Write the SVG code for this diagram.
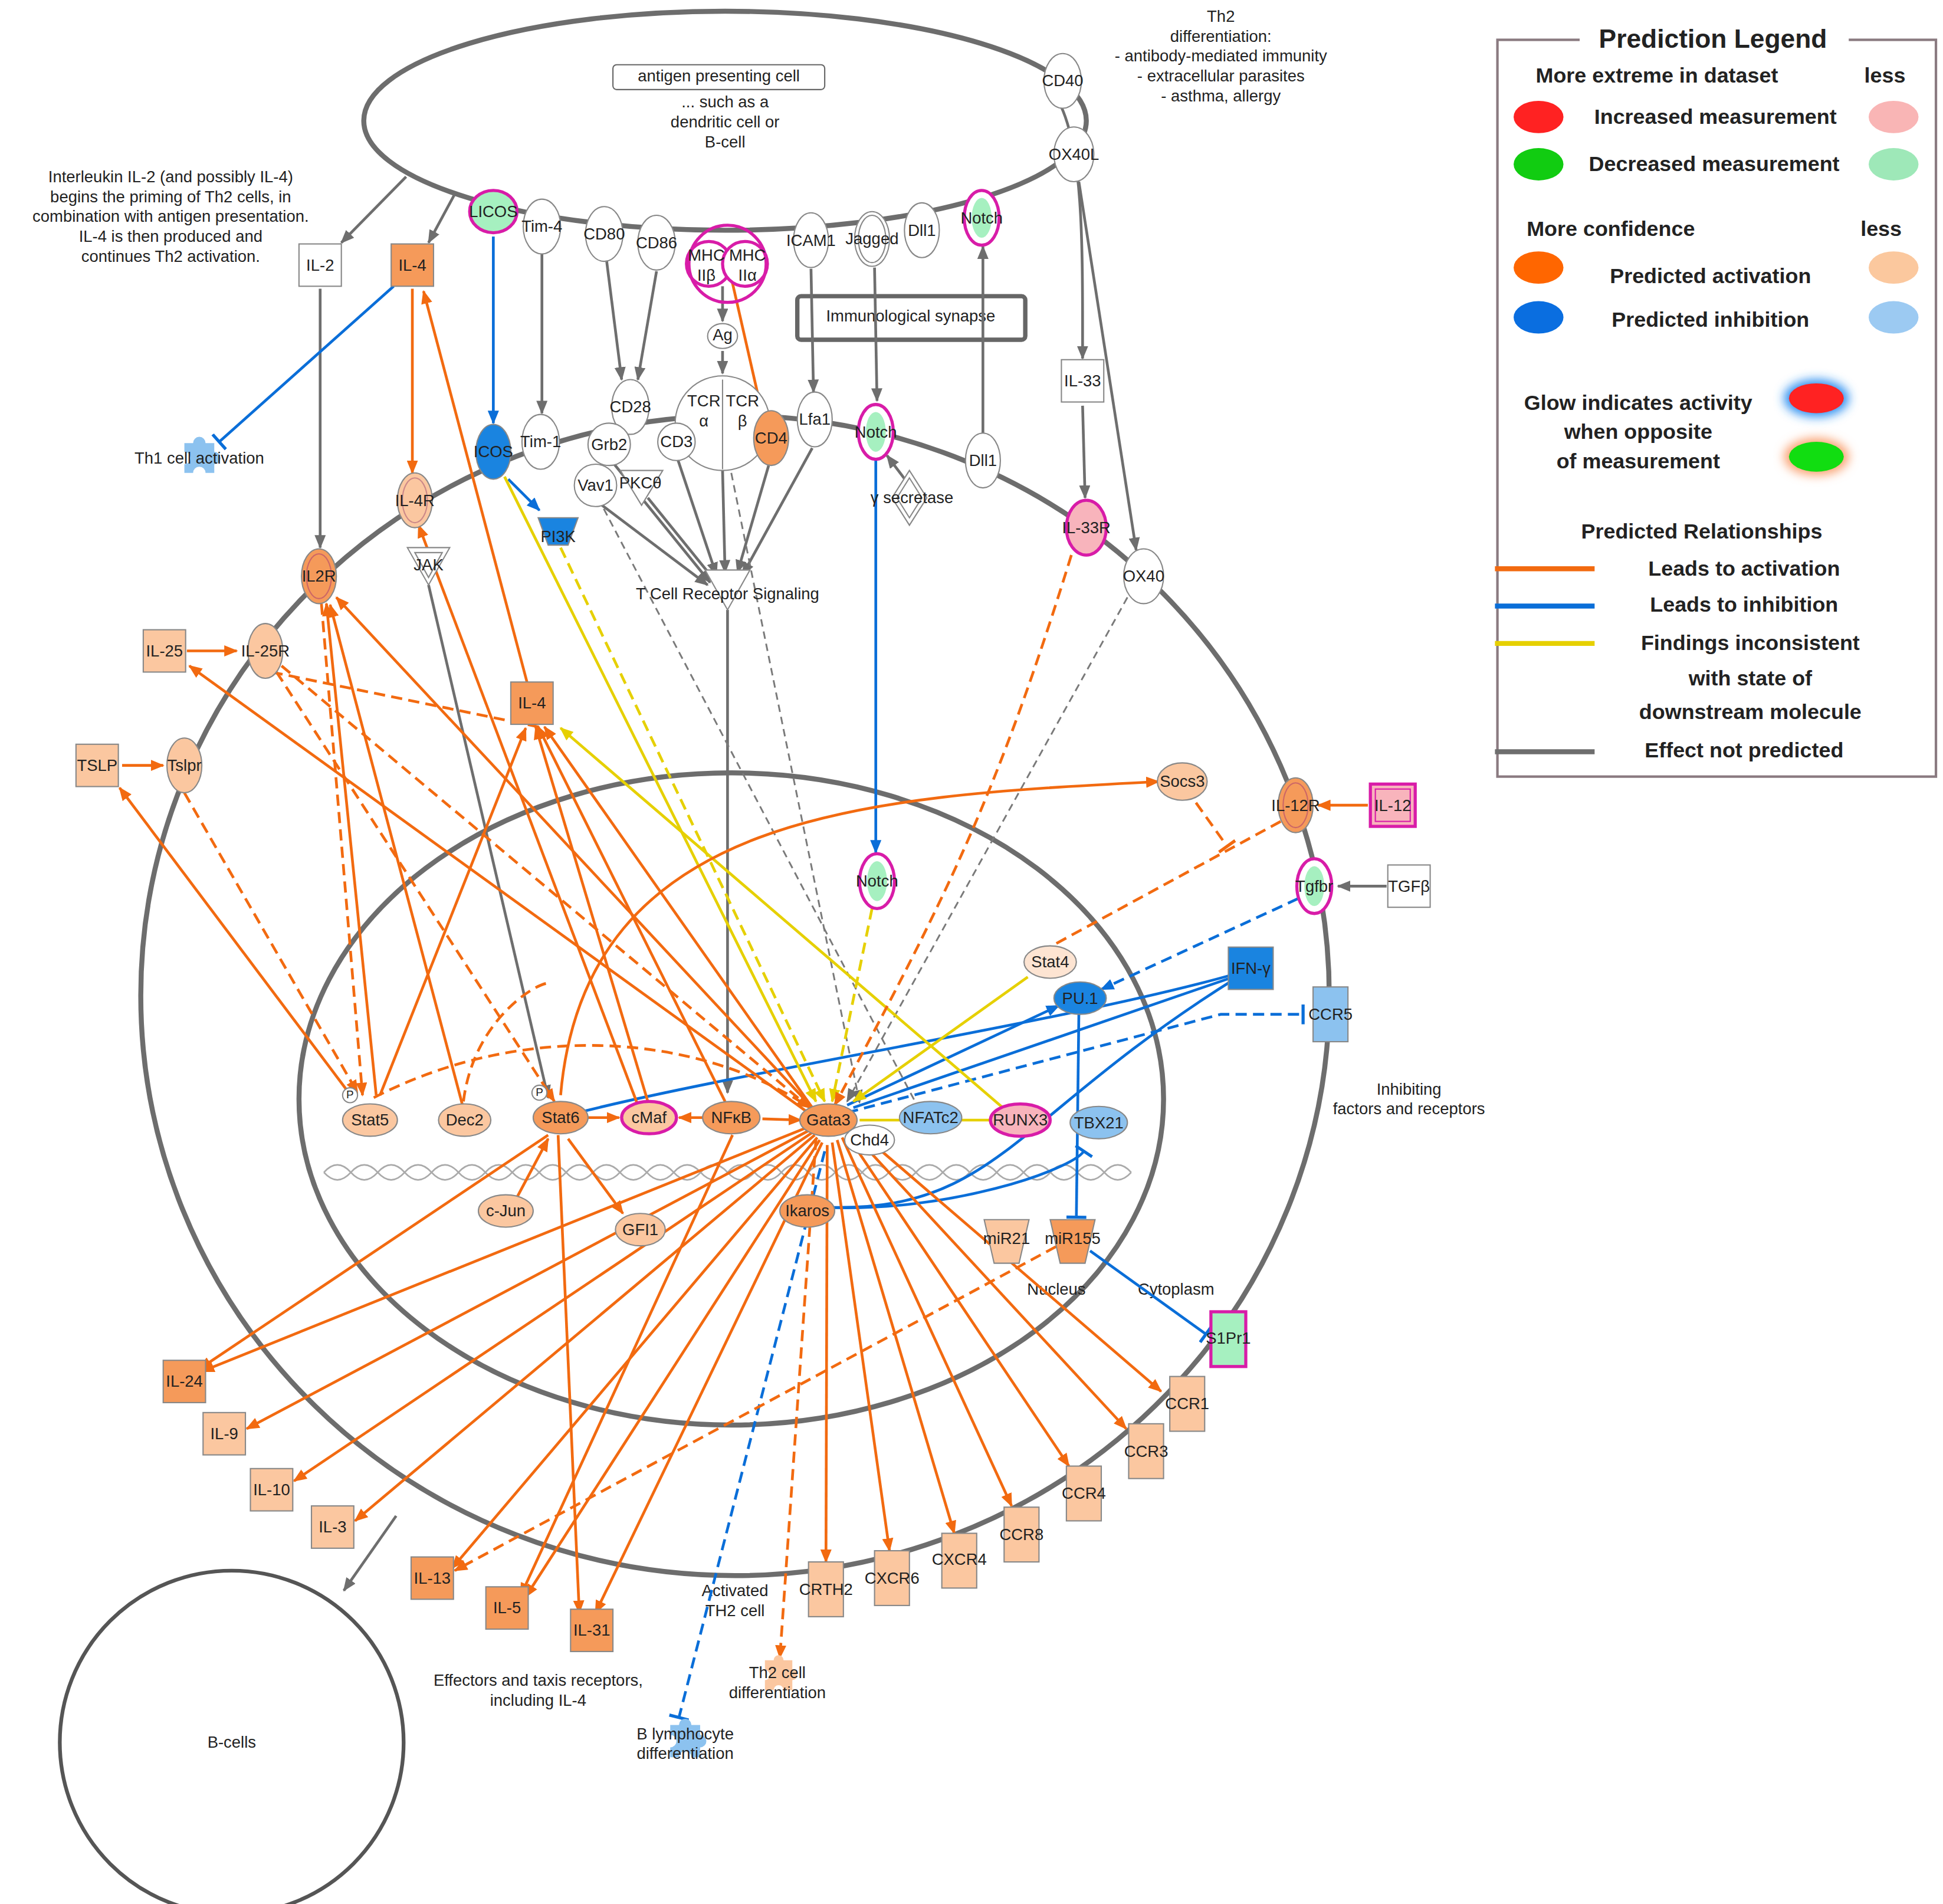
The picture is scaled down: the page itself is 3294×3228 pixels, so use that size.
<svg xmlns="http://www.w3.org/2000/svg" width="3294" height="3228" viewBox="0 0 3294 3228">
<style>
text{font-family:"Liberation Sans",Arial,sans-serif;font-size:13px;fill:#222;text-anchor:middle;dominant-baseline:middle}
.lg text{font-size:17px;font-weight:bold}
.cell{fill:none;stroke:#6d6d6d;stroke-width:4}
.n{stroke:#888;stroke-width:1}
.w{fill:#fff}.o{fill:#f59a5a}.lo{fill:#fbc7a0}.po{fill:#fde4d2}.b{fill:#1a84e0}.lb{fill:#8cc2ef}.g{fill:#a6f0c0}.pk{fill:#f8b4bc}
.m{stroke:#d81ca8;stroke-width:2.5}
.e{fill:none;stroke-width:2.2}
.a{stroke:#f26a10;marker-end:url(#ao)}
.ab{stroke:#0a6ed8}
.y{stroke:#e6d000}
.gr{stroke:#6e6e6e}
.d{stroke-dasharray:9 5}
.gd{stroke:#7a7a7a;stroke-dasharray:6 4;stroke-width:1.4}
</style>
<defs>
<marker id="ao" markerUnits="userSpaceOnUse" markerWidth="11" markerHeight="9" refX="10" refY="4.5" orient="auto"><path d="M0,0L11,4.5L0,9z" fill="#f26a10"/></marker>
<marker id="ab" markerUnits="userSpaceOnUse" markerWidth="11" markerHeight="9" refX="10" refY="4.5" orient="auto"><path d="M0,0L11,4.5L0,9z" fill="#0a6ed8"/></marker>
<marker id="ay" markerUnits="userSpaceOnUse" markerWidth="11" markerHeight="9" refX="10" refY="4.5" orient="auto"><path d="M0,0L11,4.5L0,9z" fill="#e6d000"/></marker>
<marker id="ag" markerUnits="userSpaceOnUse" markerWidth="11" markerHeight="9" refX="10" refY="4.5" orient="auto"><path d="M0,0L11,4.5L0,9z" fill="#6e6e6e"/></marker>
<marker id="tb" markerUnits="userSpaceOnUse" markerWidth="4" markerHeight="16" refX="2" refY="8" orient="auto"><path d="M2,0V16" stroke="#0a6ed8" stroke-width="2.5"/></marker>
<marker id="to" markerUnits="userSpaceOnUse" markerWidth="4" markerHeight="16" refX="2" refY="8" orient="auto"><path d="M2,0V16" stroke="#f26a10" stroke-width="2.5"/></marker>
<filter id="gb" x="-50%" y="-50%" width="200%" height="200%"><feGaussianBlur stdDeviation="4"/></filter>
</defs>
<rect width="3294" height="3228" fill="#fff"/>
<g transform="scale(2.112,2.11)">
<g id="compartments">
<ellipse class="cell" cx="582" cy="97" rx="290" ry="88"/>
<ellipse class="cell" cx="590" cy="800" rx="477" ry="466"/>
<ellipse class="cell" cx="587" cy="883" rx="347" ry="262"/>
<circle cx="186" cy="1400" r="138" fill="none" stroke="#555" stroke-width="3"/>
<path d="M260,942 q10.8,-12 21.6,0 t21.6,0 t21.6,0 t21.6,0 t21.6,0 t21.6,0 t21.6,0 t21.6,0 t21.6,0 t21.6,0 t21.6,0 t21.6,0 t21.6,0 t21.6,0 t21.6,0 t21.6,0 t21.6,0 t21.6,0 t21.6,0 t21.6,0 t21.6,0 t21.6,0 t21.6,0 t21.6,0 t21.6,0 t21.6,0 t21.6,0 t21.6,0 t21.6,0 t21.6,0" fill="none" stroke="#aaa" stroke-width="1.3"/>
<path d="M260,942 q10.8,12 21.6,0 t21.6,0 t21.6,0 t21.6,0 t21.6,0 t21.6,0 t21.6,0 t21.6,0 t21.6,0 t21.6,0 t21.6,0 t21.6,0 t21.6,0 t21.6,0 t21.6,0 t21.6,0 t21.6,0 t21.6,0 t21.6,0 t21.6,0 t21.6,0 t21.6,0 t21.6,0 t21.6,0 t21.6,0 t21.6,0 t21.6,0 t21.6,0 t21.6,0 t21.6,0" fill="none" stroke="#aaa" stroke-width="1.3"/>
</g>
<g id="labels">
<rect x="492" y="52" width="170" height="20" rx="3" fill="#fff" stroke="#666"/>
<text x="577" y="62">antigen presenting cell</text>
<text x="582" y="83">... such as a</text><text x="582" y="99">dendritic cell or</text><text x="582" y="115">B-cell</text>
<text x="980" y="14">Th2</text><text x="980" y="30">differentiation:</text><text x="980" y="46">- antibody-mediated immunity</text><text x="980" y="62">- extracellular parasites</text><text x="980" y="78">- asthma, allergy</text>
<text x="137" y="143">Interleukin IL-2 (and possibly IL-4)</text><text x="137" y="159">begins the priming of Th2 cells, in</text><text x="137" y="175">combination with antigen presentation.</text><text x="137" y="191">IL-4 is then produced and</text><text x="137" y="207">continues Th2 activation.</text>
<rect x="640" y="238" width="183" height="35" rx="3" fill="#fff" stroke="#666" stroke-width="3.5"/>
<text x="731" y="255">Immunological synapse</text>
<text x="848" y="1037">Nucleus</text><text x="944" y="1037">Cytoplasm</text>
<text x="590" y="1279">Activated</text><text x="590" y="1295">TH2 cell</text>
<text x="1131" y="876">Inhibiting</text><text x="1131" y="892">factors and receptors</text>
<text x="432" y="1351">Effectors and taxis receptors,</text><text x="432" y="1367">including IL-4</text>
<text x="186" y="1401">B-cells</text>
</g>
<g id="connectors">
<g class="e gr" marker-end="url(#ag)">
<path d="M326,142L274,195"/><path d="M365,156L344,195"/>
<path d="M257,232L257,440"/>
<path d="M435,204L435,332"/>
<path d="M487,210L499,305"/><path d="M527,218L512,305"/>
<path d="M580,230L580,258"/><path d="M580,282L580,300"/>
<path d="M651,216L653,315"/><path d="M702,215L704,322"/>
<path d="M789,348L789,198"/>
<path d="M850,82C870,120 869,200 869,288"/><path d="M869,326L871,400"/>
<path d="M866,146L912,442"/>
<path d="M1113,712L1074,712"/>
<path d="M344,470L440,882"/>
<path d="M584,490L584,878"/>
<path d="M730,390L712,366"/>
<path d="M318,1218L276,1278"/>
<path d="M489,368L570,468"/><path d="M543,366L575,462"/><path d="M520,400L575,468"/><path d="M580,378L582,460"/><path d="M617,374L592,460"/><path d="M652,360L596,462"/><path d="M478,402L568,470"/>
</g>
<path class="gd" d="M480,400L735,886"/><path class="gd" d="M587,380L690,886" marker-end="url(#ag)"/><path class="gd" d="M905,480L680,885" marker-end="url(#ag)"/>
<g class="e ab" marker-end="url(#ab)">
<path d="M396,190L396,340"/><path d="M408,385L433,410"/>
<path d="M703,370L703,685"/>
<path class="d" d="M1042,722L884,795"/>
<path d="M680,888L850,808"/>
</g>
<g class="e ab" marker-end="url(#tb)">
<path d="M316,230L176,355"/>
<path d="M468,893C600,860 860,820 990,783"/>
<path d="M685,890L990,785"/>
<path d="M660,970C800,975 810,900 992,786"/>
<path class="d" d="M680,894L980,815L1046,815"/>
<path d="M660,970C760,975 860,940 870,925"/>
<path d="M866,815L864,978"/>
<path d="M875,1005L968,1072"/>
<path class="d" d="M662,925L545,1380"/>
</g>
<g class="e y">
<path d="M405,383L655,885" marker-end="url(#ay)"/>
<path class="d" d="M450,440L662,885" marker-end="url(#ay)"/>
<path class="d" d="M700,730L668,885" marker-end="url(#ay)"/>
<path d="M825,785L685,885" marker-end="url(#ay)"/>
<path d="M805,890L450,585" marker-end="url(#ay)"/>
<path d="M690,900L798,900"/>
</g>
<g class="e a">
<path d="M331,232L331,380"/>
<path d="M423,548L340,234"/>
<path d="M150,523L190,523"/>
<path d="M98,615L131,615"/>
<path d="M1098,647L1058,647"/>
<path d="M584,210L612,333"/>
<path d="M283,882L96,633"/>
<path d="M302,880L262,485"/>
<path d="M371,887L265,486"/>
<path d="M652,890L270,480"/>
<path d="M650,895L152,535"/>
<path d="M305,880L422,585"/>
<path d="M512,888L336,422"/>
<path d="M652,890L437,584"/>
<path d="M582,885L432,584"/>
<path d="M520,885L430,584"/>
<path d="M470,898L497,898"/>
<path d="M570,898L545,898"/>
<path d="M612,899L643,900"/>
<path d="M450,880C470,650 700,640 930,628"/>
<path d="M415,962L440,915"/>
<path d="M456,915L500,975"/>
<path d="M448,912L465,1296"/>
<path d="M440,912L160,1100"/>
<path d="M650,905L162,1102"/>
<path d="M650,908L198,1148"/>
<path d="M652,910L236,1190"/>
<path d="M654,912L285,1222"/>
<path d="M656,914L363,1260"/>
<path d="M588,912L418,1282"/>
<path d="M658,916L422,1283"/>
<path d="M660,918L478,1296"/>
<path d="M664,920L663,1255"/>
<path d="M668,918L714,1246"/>
<path d="M672,916L766,1232"/>
<path d="M676,914L812,1210"/>
<path d="M680,912L858,1178"/>
<path d="M684,910L904,1148"/>
<path d="M688,908L932,1118"/>
</g>
<g class="e a d">
<path d="M148,637L287,878"/>
<path d="M258,485L291,880"/>
<path d="M226,535L650,890"/>
<path d="M222,540L445,885"/>
<path d="M218,540L437,585" marker-end="none"/>
<path d="M300,882C420,820 560,830 650,890"/>
<path d="M372,885C380,820 430,790 440,790" marker-end="none"/>
<path d="M860,446C800,640 760,720 670,888"/>
<path d="M1028,660L826,770"/>
<path d="M960,645L985,680" marker-end="url(#to)"/>
<path d="M655,915L626,1332"/>
<path d="M860,995L365,1262"/>
</g>
</g>
<g id="nodes">
<g id="n-CD40"><ellipse class="n w" cx="853" cy="65" rx="15" ry="22"/><text x="853" y="66">CD40</text></g>
<g id="n-OX40L"><ellipse class="n w" cx="862" cy="124" rx="16" ry="22"/><text x="862" y="125">OX40L</text></g>
<g id="n-LICOS"><ellipse class="g m" cx="396" cy="170" rx="19" ry="17"/><text x="396" y="171">LICOS</text></g>
<g id="n-Tim4"><ellipse class="n w" cx="435" cy="182" rx="15" ry="22"/><text x="435" y="183">Tim-4</text></g>
<g id="n-CD80"><ellipse class="n w" cx="485" cy="188" rx="15" ry="22"/><text x="485" y="189">CD80</text></g>
<g id="n-CD86"><ellipse class="n w" cx="527" cy="195" rx="15" ry="22"/><text x="527" y="196">CD86</text></g>
<g id="n-MHC"><circle class="w m" cx="569" cy="212" r="18"/><circle class="w m" cx="598" cy="212" r="18"/><circle fill="none" stroke="#d81ca8" stroke-width="2.5" cx="584" cy="212" r="31"/><text x="567" y="206">MHC</text><text x="567" y="222">IIβ</text><text x="600" y="206">MHC</text><text x="600" y="222">IIα</text></g>
<g id="n-Ag"><ellipse class="n w" cx="580" cy="270" rx="12" ry="10"/><text x="580" y="270">Ag</text></g>
<g id="n-ICAM1"><ellipse class="n w" cx="651" cy="193" rx="14" ry="22"/><text x="651" y="194">ICAM1</text></g>
<g id="n-Jagged"><ellipse class="n w" cx="700" cy="192" rx="14" ry="22"/><ellipse fill="none" stroke="#888" cx="700" cy="192" rx="11" ry="19"/><text x="700" y="193">Jagged</text></g>
<g id="n-Dll1a"><ellipse class="n w" cx="740" cy="185" rx="14" ry="22"/><text x="740" y="186">Dll1</text></g>
<g id="n-Notch1"><ellipse class="w m" cx="788" cy="175" rx="14" ry="22"/><ellipse class="g" cx="788" cy="175" rx="8" ry="16"/><text x="788" y="176">Notch</text></g>
<g id="n-Tim1"><ellipse class="n w" cx="434" cy="355" rx="15" ry="22"/><text x="434" y="356">Tim-1</text></g>
<g id="n-CD28"><ellipse class="n w" cx="506" cy="327" rx="15" ry="22"/><text x="506" y="328">CD28</text></g>
<g id="n-TCR"><circle class="n w" cx="580" cy="340" r="38"/><line x1="580" y1="305" x2="580" y2="377" stroke="#888"/><text x="565" y="323">TCR</text><text x="565" y="339">α</text><text x="596" y="323">TCR</text><text x="596" y="339">β</text></g>
<g id="n-Grb2"><circle class="n w" cx="489" cy="357" r="17"/><text x="489" y="358">Grb2</text></g>
<g id="n-CD3"><circle class="n w" cx="543" cy="355" r="15"/><text x="543" y="356">CD3</text></g>
<g id="n-CD4"><ellipse class="n o" cx="619" cy="352" rx="14" ry="22"/><text x="619" y="353">CD4</text></g>
<g id="n-Lfa1"><ellipse class="n w" cx="654" cy="337" rx="14" ry="22"/><text x="654" y="338">Lfa1</text></g>
<g id="n-Notch2"><ellipse class="w m" cx="703" cy="347" rx="14" ry="22"/><ellipse class="g" cx="703" cy="347" rx="8" ry="16"/><text x="703" y="348">Notch</text></g>
<g id="n-Dll1b"><ellipse class="n w" cx="789" cy="370" rx="14" ry="22"/><text x="789" y="371">Dll1</text></g>
<g id="n-gsec"><path class="n w" d="M730,378L744,400L730,422L716,400z"/><path fill="none" stroke="#888" d="M730,384L740,400L730,416L720,400z"/><text x="732" y="401">γ secretase</text></g>
<g id="n-ICOS"><ellipse class="n b" cx="396" cy="363" rx="14" ry="22"/><text x="396" y="364">ICOS</text></g>
<g id="n-Vav1"><circle class="n w" cx="478" cy="390" r="17"/><text x="478" y="391">Vav1</text></g>
<g id="n-PKC"><path class="n w" d="M498,378H532L515,406z"/><text x="514" y="389">PKCθ</text></g>
<g id="n-PI3K"><path class="n b" d="M432,416H464L456,438H440z"/><text x="448" y="432">PI3K</text></g>
<g id="n-IL4R"><ellipse class="n lo" cx="333" cy="402" rx="14" ry="22"/><ellipse fill="none" stroke="#c88" cx="333" cy="402" rx="10" ry="18"/><text x="333" y="403">IL-4R</text></g>
<g id="n-JAK"><path class="n w" d="M327,440H361L344,470z"/><path fill="none" stroke="#888" d="M333,444H355L344,464z"/><text x="344" y="455">JAK</text></g>
<g id="n-IL2R"><ellipse class="n o" cx="256" cy="463" rx="14" ry="22"/><ellipse fill="none" stroke="#c66" cx="256" cy="463" rx="10" ry="18"/><text x="256" y="464">IL2R</text></g>
<g id="n-IL25R"><ellipse class="n lo" cx="213" cy="523" rx="14" ry="22"/><text x="213" y="524">IL-25R</text></g>
<g id="n-Tslpr"><ellipse class="n lo" cx="148" cy="615" rx="14" ry="22"/><text x="148" y="616">Tslpr</text></g>
<g id="n-IL33R"><ellipse class="pk m" cx="872" cy="424" rx="16" ry="22"/><text x="872" y="425">IL-33R</text></g>
<g id="n-OX40"><ellipse class="n w" cx="918" cy="463" rx="16" ry="22"/><text x="918" y="464">OX40</text></g>
<g id="n-IL12R"><ellipse class="n o" cx="1040" cy="647" rx="14" ry="22"/><ellipse fill="none" stroke="#c66" cx="1040" cy="647" rx="10" ry="18"/><text x="1040" y="648">IL-12R</text></g>
<g id="n-Tgfbr"><ellipse class="w m" cx="1055" cy="712" rx="14" ry="22"/><ellipse class="g" cx="1055" cy="712" rx="8" ry="16"/><text x="1055" y="713">Tgfbr</text></g>
<g id="n-CCR5"><rect class="n lb" x="1054" y="793" width="28" height="44"/><text x="1068" y="816">CCR5</text></g>
<g id="n-S1Pr1"><rect class="g m" x="972" y="1054" width="28" height="44"/><text x="986" y="1076">S1Pr1</text></g>
<g id="n-TCRS"><path class="n w" d="M566,458H602L584,490z"/><text x="584" y="478">T Cell Receptor Signaling</text></g>
<g id="n-IL2"><rect class="n w" x="240" y="196" width="34" height="34"/><text x="257" y="214">IL-2</text></g>
<g id="n-IL4a"><rect class="n o" x="314" y="196" width="34" height="34"/><text x="331" y="214">IL-4</text></g>
<g id="n-IL33"><rect class="n w" x="852" y="289" width="34" height="34"/><text x="869" y="307">IL-33</text></g>
<g id="n-IL25"><rect class="n lo" x="115" y="506" width="34" height="34"/><text x="132" y="524">IL-25</text></g>
<g id="n-TSLP"><rect class="n lo" x="61" y="598" width="34" height="34"/><text x="78" y="616">TSLP</text></g>
<g id="n-IL4b"><rect class="n o" x="410" y="548" width="34" height="34"/><text x="427" y="566">IL-4</text></g>
<g id="n-IL12"><rect class="pk m" x="1100" y="630" width="36" height="34"/><rect fill="none" stroke="#d81ca8" x="1104" y="634" width="28" height="26"/><text x="1118" y="648">IL-12</text></g>
<g id="n-TGFb"><rect class="n w" x="1114" y="695" width="34" height="34"/><text x="1131" y="713">TGFβ</text></g>
<g id="n-IFNg"><rect class="n b" x="986" y="761" width="36" height="34"/><text x="1004" y="779">IFN-γ</text></g>
<g id="n-Th1"><path class="lb" d="M148,356h7a5,5 0 1 1 10,0h7v7a5,5 0 1 1 0,10v7h-7a5,5 0 1 0 -10,0h-7v-7a5,5 0 1 0 0,-10z"/><text x="160" y="369">Th1 cell activation</text></g>
<g id="n-Socs3"><ellipse class="n lo" cx="949" cy="628" rx="20" ry="15"/><text x="949" y="629">Socs3</text></g>
<g id="n-Notch3"><ellipse class="w m" cx="704" cy="708" rx="14" ry="22"/><ellipse class="g" cx="704" cy="708" rx="8" ry="16"/><text x="704" y="709">Notch</text></g>
<g id="n-Stat4"><ellipse class="n po" cx="843" cy="773" rx="21" ry="13"/><text x="843" y="774">Stat4</text></g>
<g id="n-PU1"><ellipse class="n b" cx="867" cy="802" rx="21" ry="13"/><text x="867" y="803">PU.1</text></g>
<g id="n-Stat5"><ellipse class="n lo" cx="297" cy="900" rx="22" ry="13"/><circle class="n w" cx="281" cy="880" r="6"/><text x="281" y="880" style="font-size:9px">P</text><text x="297" y="901">Stat5</text></g>
<g id="n-Dec2"><ellipse class="n lo" cx="373" cy="900" rx="21" ry="13"/><text x="373" y="901">Dec2</text></g>
<g id="n-Stat6"><ellipse class="n o" cx="450" cy="898" rx="22" ry="13"/><circle class="n w" cx="433" cy="878" r="6"/><text x="433" y="878" style="font-size:9px">P</text><text x="450" y="899">Stat6</text></g>
<g id="n-cMaf"><ellipse class="lo m" cx="521" cy="898" rx="22" ry="13"/><text x="521" y="899">cMaf</text></g>
<g id="n-NFkB"><ellipse class="n o" cx="587" cy="898" rx="23" ry="13"/><text x="587" y="899">NFκB</text></g>
<g id="n-Gata3"><ellipse class="n o" cx="665" cy="900" rx="23" ry="13"/><text x="665" y="901">Gata3</text></g>
<g id="n-Chd4"><ellipse class="n w" cx="698" cy="916" rx="20" ry="12"/><text x="698" y="917">Chd4</text></g>
<g id="n-NFATc2"><ellipse class="n lb" cx="747" cy="898" rx="25" ry="13"/><text x="747" y="899">NFATc2</text></g>
<g id="n-RUNX3"><ellipse class="pk m" cx="819" cy="900" rx="24" ry="13"/><text x="819" y="901">RUNX3</text></g>
<g id="n-TBX21"><ellipse class="n lb" cx="882" cy="902" rx="23" ry="13"/><text x="882" y="903">TBX21</text></g>
<g id="n-cJun"><ellipse class="n lo" cx="406" cy="973" rx="22" ry="13"/><text x="406" y="974">c-Jun</text></g>
<g id="n-GFI1"><ellipse class="n lo" cx="514" cy="988" rx="20" ry="13"/><text x="514" y="989">GFI1</text></g>
<g id="n-Ikaros"><ellipse class="n o" cx="648" cy="973" rx="22" ry="13"/><text x="648" y="974">Ikaros</text></g>
<g id="n-miR21"><path class="n lo" d="M790,980H826L818,1015H798z"/><text x="808" y="996">miR21</text></g>
<g id="n-miR155"><path class="n o" d="M843,980H879L871,1015H851z"/><text x="861" y="996">miR155</text></g>
<g id="n-IL24"><rect class="n o" x="131" y="1093" width="34" height="34"/><text x="148" y="1111">IL-24</text></g>
<g id="n-IL9"><rect class="n lo" x="163" y="1135" width="34" height="34"/><text x="180" y="1153">IL-9</text></g>
<g id="n-IL10"><rect class="n lo" x="201" y="1180" width="34" height="34"/><text x="218" y="1198">IL-10</text></g>
<g id="n-IL3"><rect class="n lo" x="250" y="1210" width="34" height="34"/><text x="267" y="1228">IL-3</text></g>
<g id="n-IL13"><rect class="n o" x="330" y="1251" width="34" height="34"/><text x="347" y="1269">IL-13</text></g>
<g id="n-IL5"><rect class="n o" x="390" y="1275" width="34" height="34"/><text x="407" y="1293">IL-5</text></g>
<g id="n-IL31"><rect class="n o" x="458" y="1293" width="34" height="34"/><text x="475" y="1311">IL-31</text></g>
<g id="n-CRTH2"><rect class="n lo" x="649" y="1255" width="28" height="44"/><text x="663" y="1278">CRTH2</text></g>
<g id="n-CXCR6"><rect class="n lo" x="702" y="1246" width="28" height="44"/><text x="716" y="1269">CXCR6</text></g>
<g id="n-CXCR4"><rect class="n lo" x="756" y="1232" width="28" height="44"/><text x="770" y="1254">CXCR4</text></g>
<g id="n-CCR8"><rect class="n lo" x="806" y="1211" width="28" height="44"/><text x="820" y="1234">CCR8</text></g>
<g id="n-CCR4"><rect class="n lo" x="856" y="1178" width="28" height="44"/><text x="870" y="1201">CCR4</text></g>
<g id="n-CCR3"><rect class="n lo" x="906" y="1144" width="28" height="44"/><text x="920" y="1167">CCR3</text></g>
<g id="n-CCR1"><rect class="n lo" x="939" y="1106" width="28" height="44"/><text x="953" y="1129">CCR1</text></g>
<g id="n-Th2diff"><path class="lo" d="M614,1334h7a4,4 0 1 1 8,0h7v8a4,4 0 1 1 0,8v8h-7a4,4 0 1 0 -8,0h-7v-8a4,4 0 1 0 0,-8z"/><text x="624" y="1345">Th2 cell</text><text x="624" y="1361">differentiation</text></g>
<g id="n-Bdiff"><path class="lb" d="M538,1386h7a5,5 0 1 1 10,0h7v8a5,5 0 1 1 0,10v8h-7a5,5 0 1 0 -10,0h-7v-8a5,5 0 1 0 0,-10z"/><text x="550" y="1394">B lymphocyte</text><text x="550" y="1410">differentiation</text></g>
</g>
<g id="legend" class="lg">
<rect x="1202" y="32" width="352" height="592" fill="#fff" stroke="#8a7a80" stroke-width="2"/>
<rect x="1268" y="20" width="216" height="24" fill="#fff"/>
<text x="1375" y="33" style="font-size:21px">Prediction Legend</text>
<text x="1330" y="62">More extreme in dataset</text><text x="1513" y="62">less</text>
<ellipse cx="1235" cy="94" rx="20" ry="13" fill="#f22"/><text x="1377" y="95">Increased measurement</text><ellipse cx="1520" cy="94" rx="20" ry="13" fill="#f9b5b5"/>
<ellipse cx="1235" cy="132" rx="20" ry="13" fill="#1c1"/><text x="1376" y="133">Decreased measurement</text><ellipse cx="1520" cy="132" rx="20" ry="13" fill="#9ee8b8"/>
<text x="1293" y="185">More confidence</text><text x="1510" y="185">less</text>
<ellipse cx="1235" cy="215" rx="20" ry="13" fill="#f60"/><text x="1373" y="223">Predicted activation</text><ellipse cx="1520" cy="215" rx="20" ry="13" fill="#fbc89e"/>
<ellipse cx="1235" cy="255" rx="20" ry="13" fill="#0a6ee0"/><text x="1373" y="258">Predicted inhibition</text><ellipse cx="1520" cy="255" rx="20" ry="13" fill="#9ccaf2"/>
<text x="1315" y="325">Glow indicates activity</text><text x="1315" y="348">when opposite</text><text x="1315" y="372">of measurement</text>
<ellipse cx="1458" cy="320" rx="26" ry="15" fill="#2a8ef0" filter="url(#gb)"/><ellipse cx="1458" cy="320" rx="22" ry="12" fill="#f22"/>
<ellipse cx="1458" cy="367" rx="26" ry="15" fill="#f9a070" filter="url(#gb)"/><ellipse cx="1458" cy="367" rx="22" ry="12" fill="#1d1"/>
<text x="1366" y="428">Predicted Relationships</text>
<line x1="1200" y1="457" x2="1280" y2="457" stroke="#f26a10" stroke-width="4"/><text x="1400" y="458">Leads to activation</text>
<line x1="1200" y1="487" x2="1280" y2="487" stroke="#0a6ed8" stroke-width="4"/><text x="1400" y="487">Leads to inhibition</text>
<line x1="1200" y1="517" x2="1280" y2="517" stroke="#e6d000" stroke-width="4"/><text x="1405" y="518">Findings inconsistent</text><text x="1405" y="546">with state of</text><text x="1405" y="573">downstream molecule</text>
<line x1="1200" y1="604" x2="1280" y2="604" stroke="#6e6e6e" stroke-width="4"/><text x="1400" y="604">Effect not predicted</text>
</g>
</g>
</svg>
